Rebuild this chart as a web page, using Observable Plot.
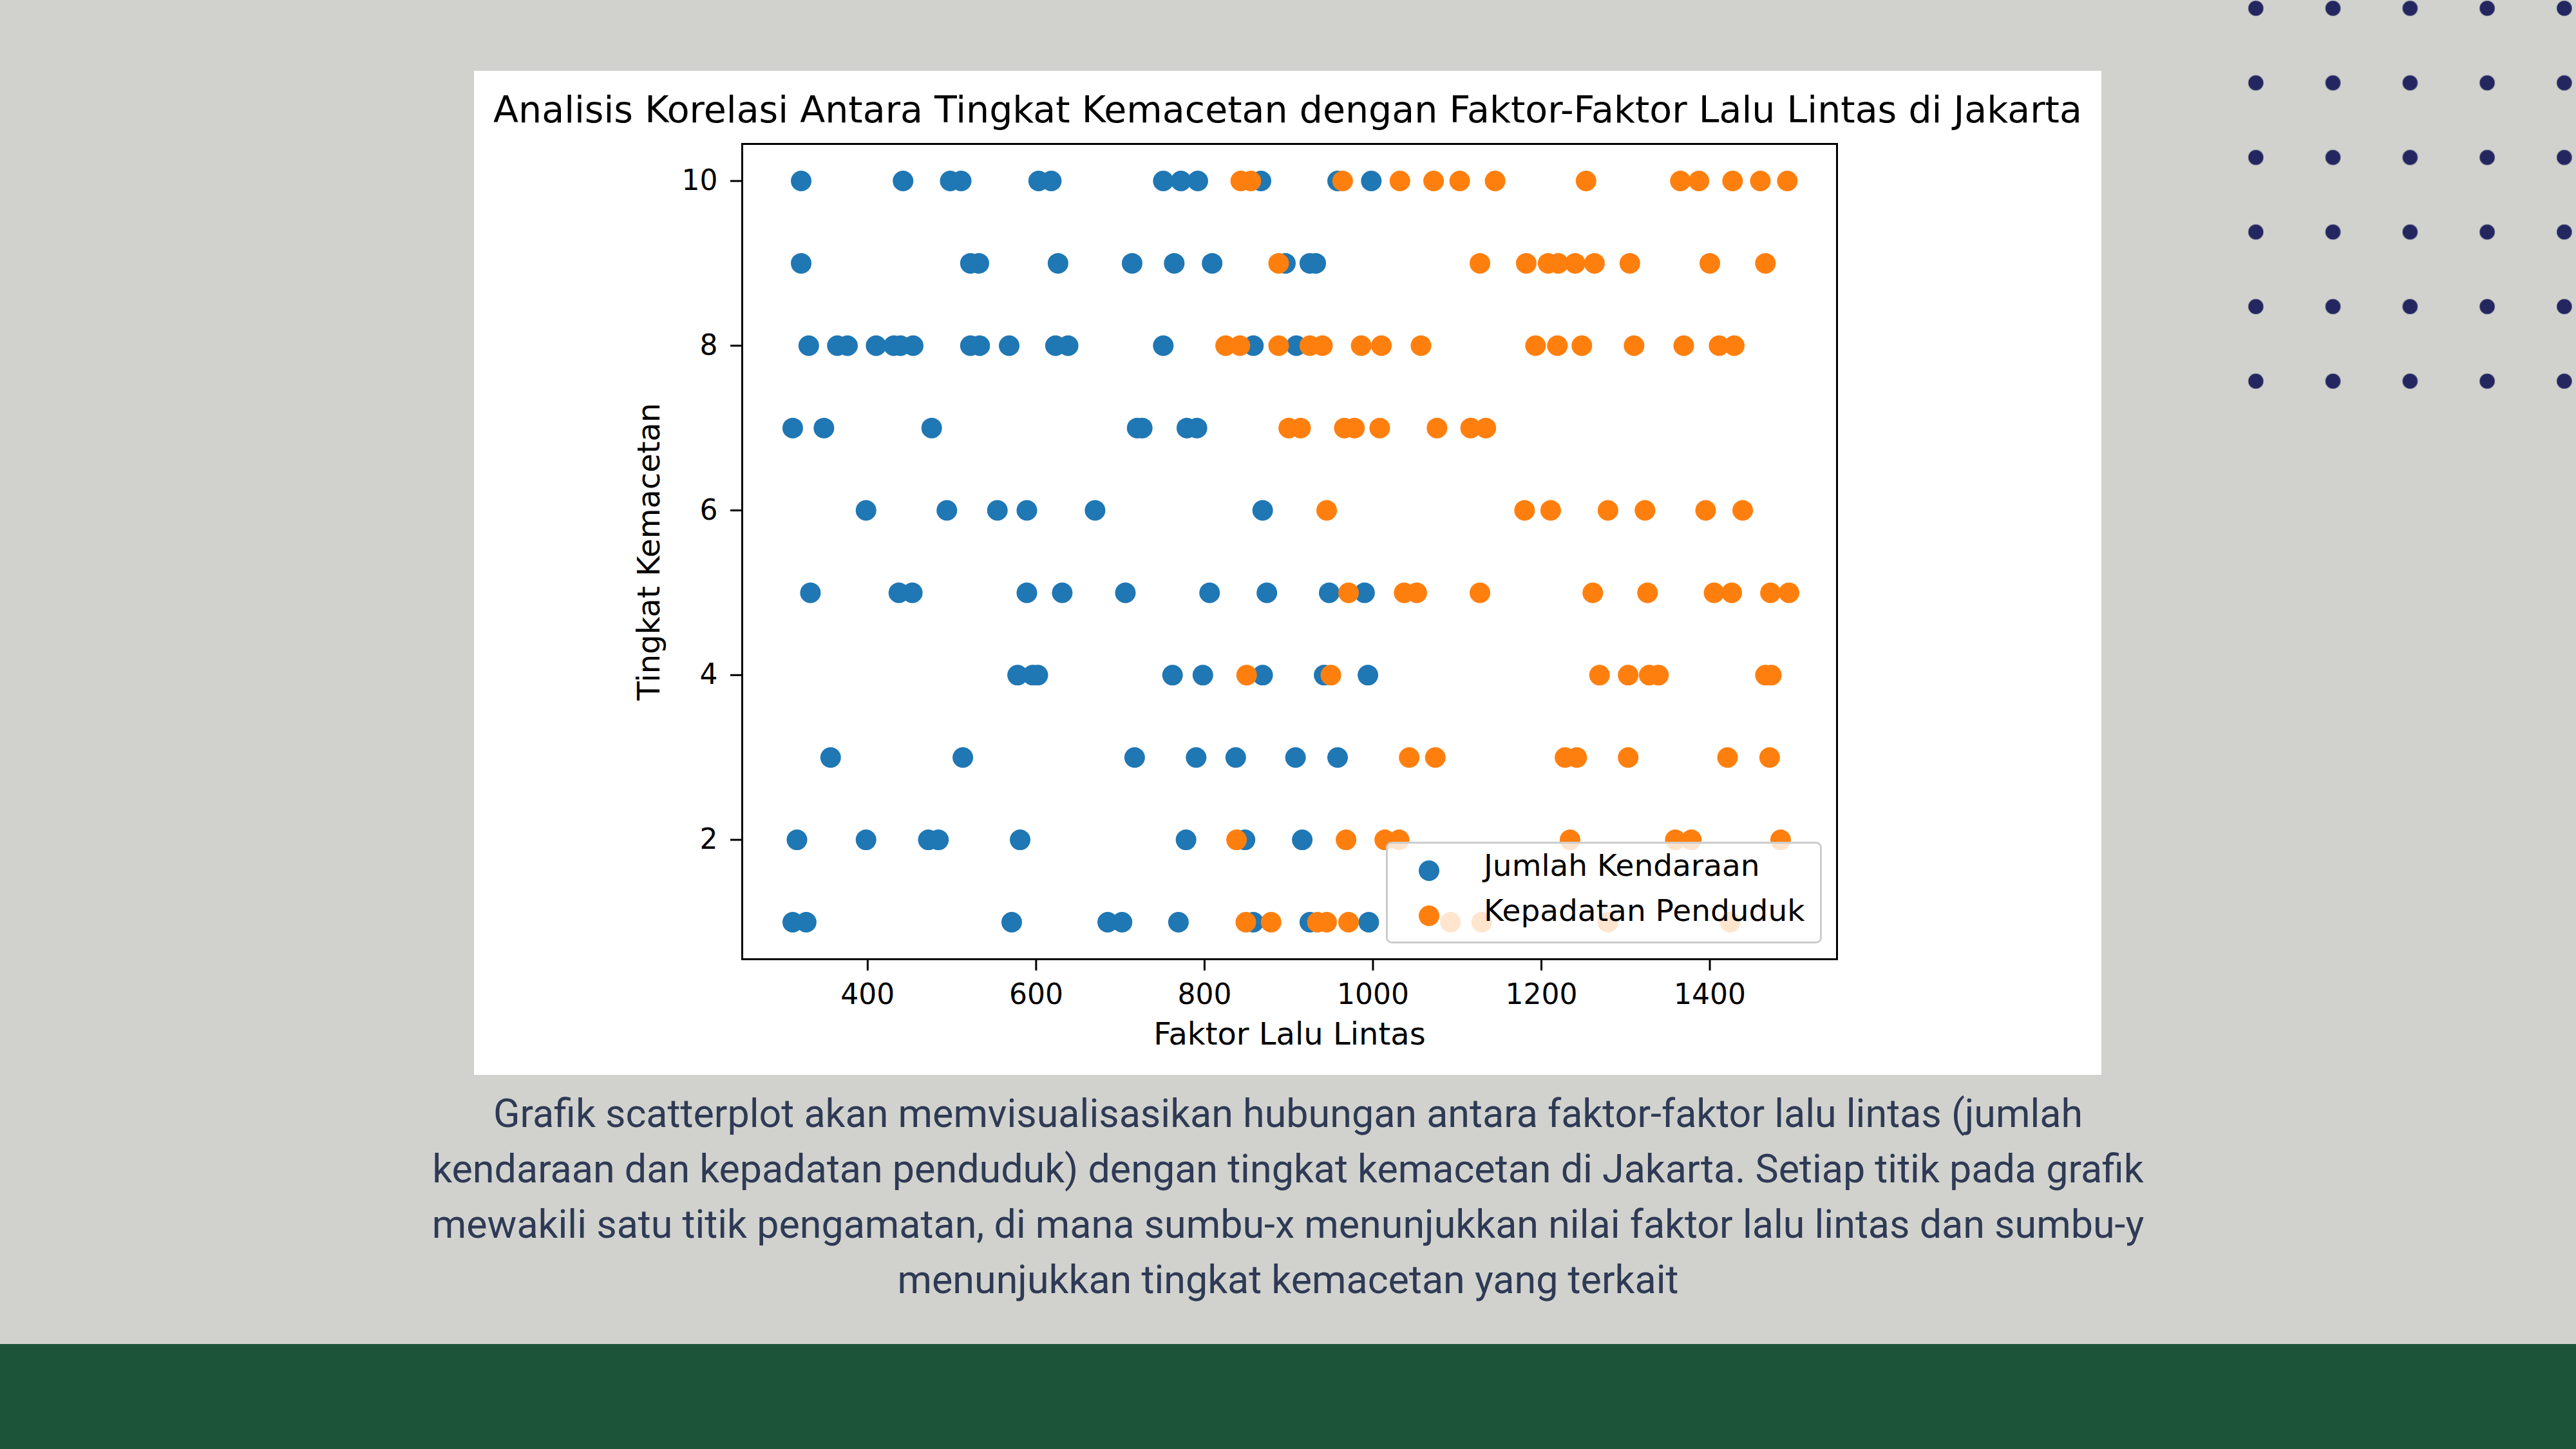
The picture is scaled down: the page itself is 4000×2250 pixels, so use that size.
<!DOCTYPE html>
<html>
<head>
<meta charset="utf-8">
<script src="https://cdn.jsdelivr.net/npm/d3@7"></script>
<script src="https://cdn.jsdelivr.net/npm/@observablehq/plot@0.6"></script>
<style>
  html, body { margin: 0; padding: 0; }
  body { width: 4000px; height: 2250px; background: #d1d2cd; position: relative; overflow: hidden; }
  #dots { position: absolute; left: 3443px; top: -45px; width: 599px; height: 695px;
    background-image: radial-gradient(circle at center, #23265f 11px, rgba(35,38,95,0) 12.5px);
    background-size: 119.75px 115.8px; }
  #band { position: absolute; left: 0; top: 2087px; width: 4000px; height: 163px; background: #1c5439; }
  #box { position: absolute; left: 736px; top: 110px; width: 2527px; height: 1559px; background: #fff; }
  #title { height: 70px; padding-top: 32px; line-height: 57px; font-family: "DejaVu Sans"; font-size: 57px;
    color: #000; text-align: center; white-space: nowrap; }
  #chart svg { display: block; }
  #legend { position: absolute; left: 1416px; top: 1197px; width: 671px; height: 152px;
    background: rgba(255,255,255,0.8); border: 3px solid #cccccc; border-radius: 9px;
    font-family: "DejaVu Sans"; font-size: 47px; color: #000; }
  .li { position: absolute; left: 0; height: 60px; width: 100%; }
  .mk { position: absolute; left: 48px; width: 32px; height: 32px; border-radius: 50%; }
  .lt { position: absolute; left: 149px; white-space: nowrap; line-height: 47px; }
  #caption { position: absolute; left: 0; top: 1686px; width: 4000px; text-align: center;
    font-family: Roboto; font-size: 61px; line-height: 86px; color: #2e3a55; white-space: nowrap; }
</style>
</head>
<body>
<div id="dots"></div>
<div id="band"></div>
<div id="box">
  <div id="title">Analisis Korelasi Antara Tingkat Kemacetan dengan Faktor-Faktor Lalu Lintas di Jakarta</div>
  <div id="chart"></div>
  <div id="legend">
    <div class="li" style="top:12px"><span class="mk" style="background:#1f77b4;top:14px"></span><span class="lt" style="top:-2px">Jumlah Kendaraan</span></div>
    <div class="li" style="top:84px"><span class="mk" style="background:#ff7f0e;top:12px"></span><span class="lt" style="top:-4px">Kepadatan Penduduk</span></div>
  </div>
</div>
<div id="caption">Grafik scatterplot akan memvisualisasikan hubungan antara faktor-faktor lalu lintas (jumlah<br>kendaraan dan kepadatan penduduk) dengan tingkat kemacetan di Jakarta. Setiap titik pada grafik<br>mewakili satu titik pengamatan, di mana sumbu-x menunjukkan nilai faktor lalu lintas dan sumbu-y<br>menunjukkan tingkat kemacetan yang terkait</div>
<script>
// Tingkat Kemacetan levels (rows)
const tingkat = [10, 9, 8, 7, 6, 5, 4, 3, 2, 1];

// Jumlah Kendaraan (x values per level, same order as tingkat)
const jumlahKendaraan = [
  [321, 442, 498, 511, 603, 618, 751, 772, 792, 867, 958, 998],
  [321, 522, 532, 626, 714, 764, 809, 896, 925, 932],
  [330, 364, 376, 410, 431, 439, 454, 522, 533, 568, 623, 638, 751, 858, 909],
  [311, 348, 476, 720, 726, 779, 791],
  [398, 494, 554, 589, 670, 869],
  [332, 437, 453, 589, 631, 706, 806, 874, 948, 990],
  [578, 596, 602, 762, 798, 869, 942, 994],
  [356, 513, 717, 790, 837, 908, 958],
  [316, 398, 472, 484, 581, 778, 848, 916],
  [311, 327, 571, 685, 702, 769, 858, 925, 995]
];

// Kepadatan Penduduk (x values per level)
const kepadatanPenduduk = [
  [843, 855, 964, 1032, 1072, 1103, 1145, 1253, 1365, 1387, 1427, 1460, 1492],
  [888, 1127, 1182, 1208, 1220, 1240, 1263, 1305, 1400, 1466],
  [825, 842, 888, 925, 940, 986, 1010, 1057, 1193, 1219, 1248, 1310, 1369, 1411, 1429],
  [900, 914, 966, 978, 1008, 1076, 1116, 1134],
  [945, 1180, 1211, 1279, 1323, 1395, 1439],
  [971, 1037, 1052, 1127, 1261, 1326, 1405, 1426, 1472, 1494],
  [850, 950, 1269, 1303, 1328, 1339, 1466, 1473],
  [1043, 1074, 1228, 1242, 1303, 1421, 1471],
  [838, 968, 1014, 1031, 1234, 1359, 1378, 1484],
  [849, 879, 934, 945, 971, 1092, 1129, 1279, 1424]
];

const xTicks = [400, 600, 800, 1000, 1200, 1400];
const yTicks = [2, 4, 6, 8, 10];
const seriesNames = ["Jumlah Kendaraan", "Kepadatan Penduduk"];
const seriesColors = ["#1f77b4", "#ff7f0e"];

const toRows = (arr, name) => arr.flatMap((xs, i) => xs.map(x => ({x, y: tingkat[i], series: name})));
const rowsA = toRows(jumlahKendaraan, seriesNames[0]);
const rowsB = toRows(kepadatanPenduduk, seriesNames[1]);

const chart = Plot.plot({
  width: 2527,
  height: 1457,
  marginTop: 11,
  marginBottom: 180,
  marginLeft: 416,
  marginRight: 411,
  style: {fontFamily: "DejaVu Sans", fontSize: "44px", color: "#000", background: "#fff", overflow: "visible"},
  x: {domain: [251, 1551]},
  y: {domain: [0.55, 10.45]},
  marks: [
    Plot.dot(rowsA, {x: "x", y: "y", r: 16, fill: seriesColors[0], stroke: "none"}),
    Plot.dot(rowsB, {x: "x", y: "y", r: 16, fill: seriesColors[1], stroke: "none"}),
    Plot.frame({stroke: "#000", strokeWidth: 3}),
    Plot.axisX({ticks: xTicks, tickSize: 18, tickPadding: 20, strokeWidth: 3, fontSize: 44, label: null, tickFormat: d3.format("d")}),
    Plot.axisY({ticks: yTicks, tickSize: 18, tickPadding: 20, strokeWidth: 3, fontSize: 44, label: null}),
    Plot.text(["Faktor Lalu Lintas"], {frameAnchor: "bottom", dy: 132, fontSize: 48, fill: "#000"}),
    Plot.text(["Tingkat Kemacetan"], {frameAnchor: "left", textAnchor: "middle", dx: -144, rotate: -90, fontSize: 48, fill: "#000"})
  ]
});
document.getElementById("chart").appendChild(chart);
</script>
</body>
</html>
